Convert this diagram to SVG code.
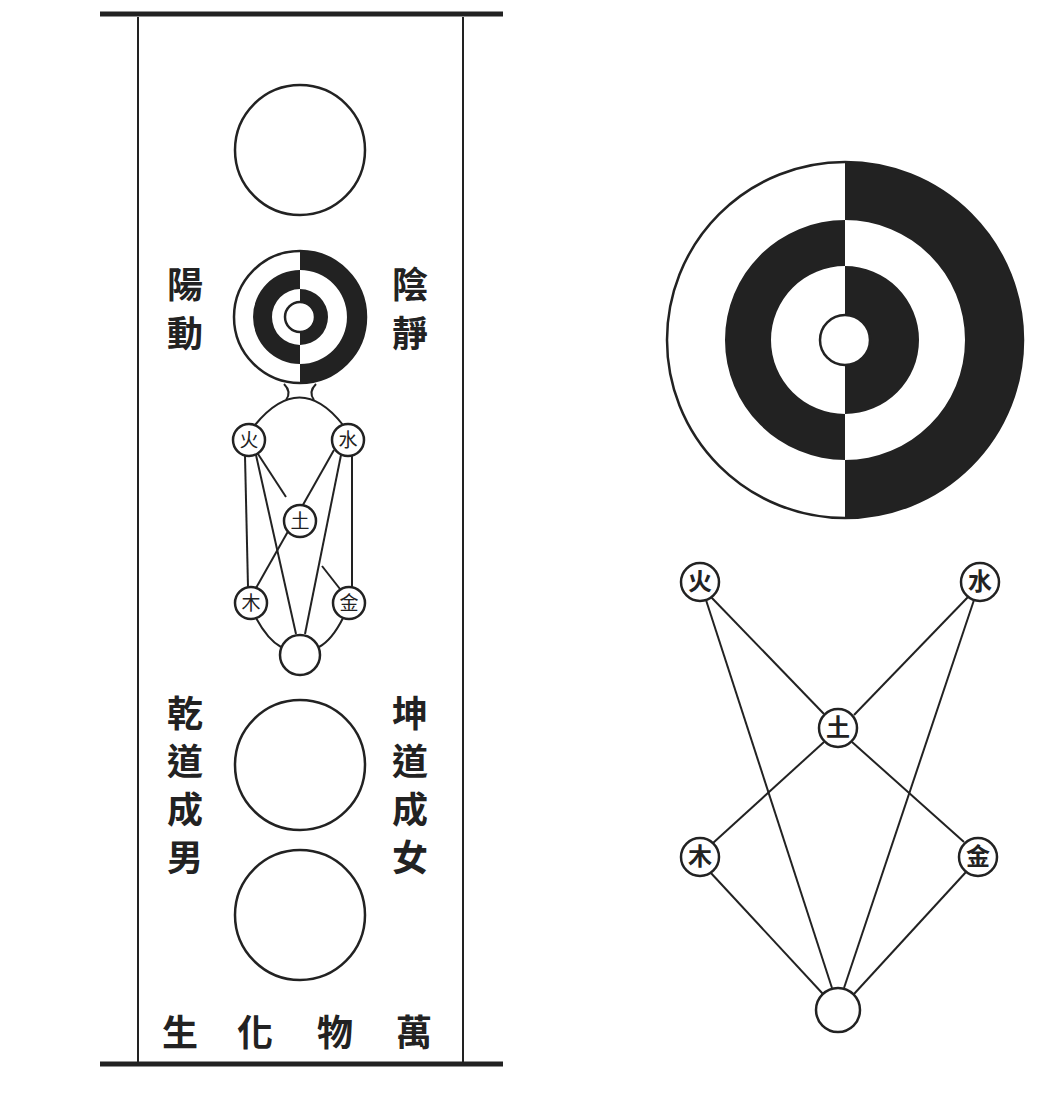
<svg xmlns="http://www.w3.org/2000/svg" width="1039" height="1113" viewBox="0 0 1039 1113">
<style>
.o{fill:#fff;stroke:#222;stroke-width:2.5}
.b{fill:#222}
.l{stroke:#222;stroke-width:2;fill:none}
.t{font-family:"Noto Sans CJK TC","Noto Sans CJK SC",serif;font-size:36px;fill:#222;text-anchor:middle;font-weight:bold}
.e{font-family:"Noto Sans CJK TC","Noto Sans CJK SC",serif;font-size:19px;fill:#222;text-anchor:middle}
.E{font-family:"Noto Sans CJK TC","Noto Sans CJK SC",serif;font-size:24px;fill:#222;text-anchor:middle;font-weight:bold}
</style>
<rect width="1039" height="1113" fill="#fff"/>
<g id="frame">
<line x1="100" y1="14" x2="503" y2="14" stroke="#222" stroke-width="5"/>
<line x1="100" y1="1064" x2="503" y2="1064" stroke="#222" stroke-width="5"/>
<line x1="138" y1="17" x2="138" y2="1062" stroke="#222" stroke-width="2"/>
<line x1="463" y1="17" x2="463" y2="1062" stroke="#222" stroke-width="2"/>
</g>
<g id="wuji"><circle class="o" cx="300" cy="150" r="65"/></g>
<g id="taiji-small">
<circle class="o" cx="300" cy="317" r="66"/>
<path class="b" d="M300 251 A66 66 0 0 1 300 383 L300 364 A47 47 0 0 0 300 270 Z"/>
<path class="b" d="M300 270 A47 47 0 0 0 300 364 L300 345 A28 28 0 0 1 300 289 Z"/>
<path class="b" d="M300 289 A28 28 0 0 1 300 345 L300 332 A15 15 0 0 0 300 302 Z"/>
<circle class="o" cx="300" cy="317" r="15" stroke-width="2"/>
</g>
<g id="connectors-left">
<path class="l" d="M284 384 Q292 392 286 400 M316 384 Q308 392 314 400"/>
<path class="l" d="M255 425 Q300 370 343 425"/>
<line class="l" x1="245" y1="456" x2="248" y2="587"/>
<line class="l" x1="352" y1="456" x2="352" y2="587"/>
<line class="l" x1="256" y1="455" x2="296" y2="634"/>
<line class="l" x1="341" y1="455" x2="305" y2="634"/>
<line class="l" x1="258" y1="454" x2="286" y2="497"/>
<line class="l" x1="334" y1="450" x2="256" y2="588"/>
<line class="l" x1="322" y1="566" x2="340" y2="589"/>
<path class="l" d="M256 618 Q268 640 281 647 M343 618 Q332 640 319 647"/>
</g>
<g id="fire-l"><circle class="o" cx="249" cy="440" r="16"/><text class="e" x="249" y="447">火</text></g>
<g id="water-l"><circle class="o" cx="348" cy="440" r="16"/><text class="e" x="348" y="447">水</text></g>
<g id="earth-l"><circle class="o" cx="300" cy="521" r="16"/><text class="e" x="300" y="528">土</text></g>
<g id="wood-l"><circle class="o" cx="251" cy="603" r="16"/><text class="e" x="251" y="610">木</text></g>
<g id="metal-l"><circle class="o" cx="349" cy="603" r="16"/><text class="e" x="349" y="610">金</text></g>
<g id="bottom-l"><circle class="o" cx="300" cy="655" r="20"/></g>
<g id="qian"><circle class="o" cx="300" cy="765" r="65"/></g>
<g id="wanwu"><circle class="o" cx="300" cy="915" r="65"/></g>
<g id="labels">
<text class="t" x="185" y="298">陽</text><text class="t" x="185" y="347">動</text>
<text class="t" x="410" y="298">陰</text><text class="t" x="410" y="347">靜</text>
<text class="t" x="185" y="727">乾</text><text class="t" x="185" y="775">道</text><text class="t" x="185" y="823">成</text><text class="t" x="185" y="871">男</text>
<text class="t" x="410" y="727">坤</text><text class="t" x="410" y="775">道</text><text class="t" x="410" y="823">成</text><text class="t" x="410" y="871">女</text>
<text class="t" x="180" y="1046">生</text><text class="t" x="255" y="1046">化</text><text class="t" x="335" y="1046">物</text><text class="t" x="414" y="1046">萬</text>
</g>
<g id="taiji-big">
<circle class="o" cx="845" cy="340" r="178"/>
<path class="b" d="M845 162 A178 178 0 0 1 845 518 L845 460 A120 120 0 0 0 845 220 Z"/>
<path class="b" d="M845 220 A120 120 0 0 0 845 460 L845 414 A74 74 0 0 1 845 266 Z"/>
<path class="b" d="M845 266 A74 74 0 0 1 845 414 L845 365 A25 25 0 0 0 845 315 Z"/>
<circle class="o" cx="845" cy="340" r="25" stroke-width="3"/>
</g>
<g id="connectors-right">
<line class="l" x1="711" y1="597" x2="824" y2="714"/>
<line class="l" x1="968" y1="597" x2="854" y2="715"/>
<line class="l" x1="824" y1="742" x2="713" y2="843"/>
<line class="l" x1="852" y1="742" x2="964" y2="842"/>
<line class="l" x1="706" y1="600" x2="832" y2="988"/>
<line class="l" x1="974" y1="600" x2="844" y2="988"/>
<line class="l" x1="710" y1="872" x2="823" y2="994"/>
<line class="l" x1="966" y1="872" x2="854" y2="994"/>
</g>
<g id="fire-r"><circle class="o" cx="700" cy="582" r="19"/><text class="E" x="700" y="590">火</text></g>
<g id="water-r"><circle class="o" cx="980" cy="582" r="19"/><text class="E" x="980" y="590">水</text></g>
<g id="earth-r"><circle class="o" cx="838" cy="728" r="19"/><text class="E" x="838" y="736">土</text></g>
<g id="wood-r"><circle class="o" cx="700" cy="857" r="19"/><text class="E" x="700" y="865">木</text></g>
<g id="metal-r"><circle class="o" cx="978" cy="857" r="19"/><text class="E" x="978" y="865">金</text></g>
<g id="bottom-r"><circle class="o" cx="838" cy="1010" r="22"/></g>
</svg>
